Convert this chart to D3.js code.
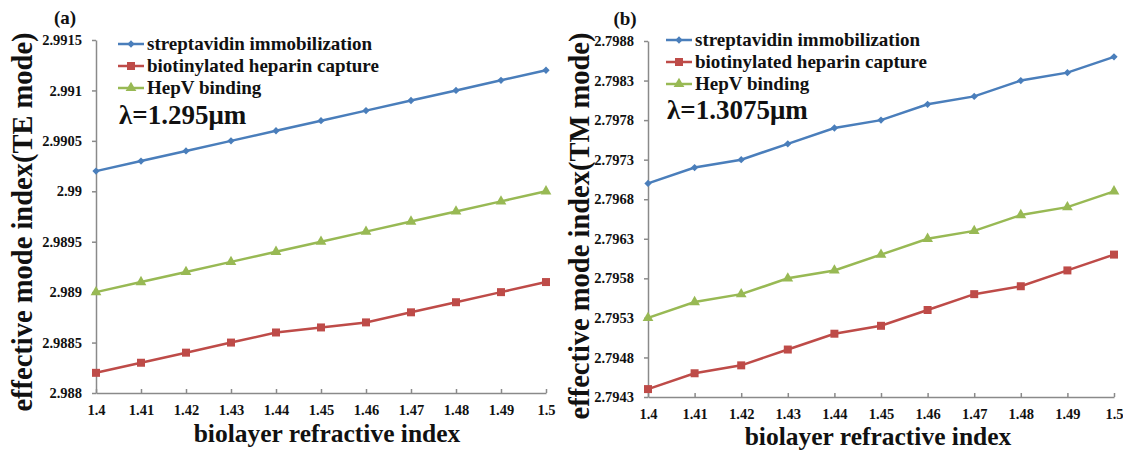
<!DOCTYPE html>
<html>
<head>
<meta charset="utf-8">
<script src="https://cdn.jsdelivr.net/npm/d3@7"></script>
<style>
    body { margin: 0; background: #fff; }
    text { font-family: "Liberation Serif", "Times New Roman", serif; font-weight: bold; fill: #111; }
</style>
</head>
<body>
<div class="chart__container"></div>
<script>
/*-------------------------------------DATA-------------------------------------*/

const X_VALUES = [1.4, 1.41, 1.42, 1.43, 1.44, 1.45, 1.46, 1.47, 1.48, 1.49, 1.5];
const X_LABELS = ["1.4", "1.41", "1.42", "1.43", "1.44", "1.45", "1.46", "1.47", "1.48", "1.49", "1.5"];
const SERIES_NAMES = ["streptavidin immobilization", "biotinylated heparin capture", "HepV binding"];

// (a) TE mode, lambda = 1.295um
const TE_STREPTAVIDIN = [2.9902, 2.9903, 2.9904, 2.9905, 2.9906, 2.9907, 2.9908, 2.9909, 2.9910, 2.9911, 2.9912];
const TE_HEPARIN = [2.9882, 2.9883, 2.9884, 2.9885, 2.9886, 2.98865, 2.9887, 2.9888, 2.9889, 2.9890, 2.9891];
const TE_HEPV = [2.9890, 2.9891, 2.9892, 2.9893, 2.9894, 2.9895, 2.9896, 2.9897, 2.9898, 2.9899, 2.9900];
const TE_TICKS = [2.988, 2.9885, 2.989, 2.9895, 2.99, 2.9905, 2.991, 2.9915];
const TE_TICK_LABELS = ["2.988", "2.9885", "2.989", "2.9895", "2.99", "2.9905", "2.991", "2.9915"];

// (b) TM mode, lambda = 1.3075um
const TM_STREPTAVIDIN = [2.7970, 2.7972, 2.7973, 2.7975, 2.7977, 2.7978, 2.7980, 2.7981, 2.7983, 2.7984, 2.7986];
const TM_HEPARIN = [2.7944, 2.7946, 2.7947, 2.7949, 2.7951, 2.7952, 2.7954, 2.7956, 2.7957, 2.7959, 2.7961];
const TM_HEPV = [2.7953, 2.7955, 2.7956, 2.7958, 2.7959, 2.7961, 2.7963, 2.7964, 2.7966, 2.7967, 2.7969];
const TM_TICKS = [2.7943, 2.7948, 2.7953, 2.7958, 2.7963, 2.7968, 2.7973, 2.7978, 2.7983, 2.7988];
const TM_TICK_LABELS = ["2.7943", "2.7948", "2.7953", "2.7958", "2.7963", "2.7968", "2.7973", "2.7978", "2.7983", "2.7988"];

/*-------------------------------------INIT-------------------------------------*/

const CHART__WIDTH = 1123;
const CHART__HEIGHT = 454;
const COLORS = ["#4a7ebb", "#be4b48", "#98b954"];
const SYMBOLS = [d3.symbolDiamond2, d3.symbolSquare, d3.symbolTriangle];
const SYMBOL_SIZES = [34, 64, 50];
const AXIS_COLOR = "#8a8a8a";
const FONT = "'Liberation Serif', 'Times New Roman', serif";

const PANELS = [
    {
        tag: "(a)", tagX: 65, tagY: 24,
        x0: 96, x1: 546, yTop: 40, yBottom: 393,
        ticks: TE_TICKS, tickLabels: TE_TICK_LABELS,
        series: [TE_STREPTAVIDIN, TE_HEPARIN, TE_HEPV],
        yLabel: "effective mode index(TE mode)", yLabelX: 32, yLabelY: 222,
        xLabelX: 327, xLabelY: 442,
        legendX: 118, legendY: 44,
        lambda: "λ=1.295μm", lambdaY: 124
    },
    {
        tag: "(b)", tagX: 625, tagY: 25,
        x0: 648, x1: 1114, yTop: 41, yBottom: 397,
        ticks: TM_TICKS, tickLabels: TM_TICK_LABELS,
        series: [TM_STREPTAVIDIN, TM_HEPARIN, TM_HEPV],
        yLabel: "effective mode index(TM mode)", yLabelX: 589, yLabelY: 226,
        xLabelX: 878, xLabelY: 445,
        legendX: 666, legendY: 40,
        lambda: "λ=1.3075μm", lambdaY: 119
    }
];

/*-------------------------------------Graph-------------------------------------*/

const SVG = d3.select(".chart__container").append("svg");

SVG.attr("width", CHART__WIDTH).attr("height", CHART__HEIGHT);

PANELS.forEach(p => {

    const g = SVG.append("g").style("font-family", FONT);

    const xScale = d3.scaleLinear().domain([1.4, 1.5]).range([p.x0, p.x1]);
    const yScale = d3.scaleLinear()
        .domain([p.ticks[0], p.ticks[p.ticks.length - 1]])
        .range([p.yBottom, p.yTop]);

    //Axes
    const xAxis = d3.axisBottom(xScale)
        .tickValues(X_VALUES)
        .tickFormat((d, i) => X_LABELS[i])
        .tickSizeInner(-4)
        .tickSizeOuter(0)
        .tickPadding(10);

    const yAxis = d3.axisLeft(yScale)
        .tickValues(p.ticks)
        .tickFormat((d, i) => p.tickLabels[i])
        .tickSizeInner(4)
        .tickSizeOuter(0)
        .tickPadding(10);

    const gx = g.append("g").attr("transform", `translate(0,${p.yBottom})`).call(xAxis);
    const gy = g.append("g").attr("transform", `translate(${p.x0},0)`).call(yAxis);

    [gx, gy].forEach(a => {
        a.attr("font-family", null).attr("font-size", null);
        a.selectAll("path, line").attr("stroke", AXIS_COLOR).attr("stroke-width", 1.5);
        a.selectAll("text")
            .style("font-size", "14.5px")
            .style("font-family", FONT)
            .style("font-weight", "bold")
            .attr("fill", "#222");
    });
    gx.selectAll("text").attr("dy", "0.85em");

    //Lines and markers
    const line = d3.line()
        .x((d, i) => xScale(X_VALUES[i]))
        .y(d => yScale(d));

    p.series.forEach((values, s) => {
        g.append("path")
            .datum(values)
            .attr("d", line)
            .attr("fill", "none")
            .attr("stroke", COLORS[s])
            .attr("stroke-width", 2.5);

        g.selectAll(null)
            .data(values)
            .join("path")
            .attr("d", d3.symbol().type(SYMBOLS[s]).size(SYMBOL_SIZES[s]))
            .attr("transform", (d, i) => `translate(${xScale(X_VALUES[i])},${yScale(d)})`)
            .attr("fill", COLORS[s]);
    });

    //Panel tag
    g.append("text")
        .attr("x", p.tagX)
        .attr("y", p.tagY)
        .attr("text-anchor", "middle")
        .style("font-size", "19px")
        .text(p.tag);

    //Axis titles
    g.append("text")
        .attr("transform", `translate(${p.yLabelX},${p.yLabelY}) rotate(-90)`)
        .attr("text-anchor", "middle")
        .style("font-size", "28.5px")
        .text(p.yLabel);

    g.append("text")
        .attr("x", p.xLabelX)
        .attr("y", p.xLabelY)
        .attr("text-anchor", "middle")
        .style("font-size", "25.5px")
        .text("biolayer refractive index");

    //Legend
    SERIES_NAMES.forEach((name, s) => {
        const ly = p.legendY + s * 22;
        g.append("line")
            .attr("x1", p.legendX).attr("x2", p.legendX + 26)
            .attr("y1", ly).attr("y2", ly)
            .attr("stroke", COLORS[s])
            .attr("stroke-width", 2.5);
        g.append("path")
            .attr("d", d3.symbol().type(SYMBOLS[s]).size(SYMBOL_SIZES[s]))
            .attr("transform", `translate(${p.legendX + 13},${ly})`)
            .attr("fill", COLORS[s]);
        g.append("text")
            .attr("x", p.legendX + 29)
            .attr("y", ly)
            .attr("dy", "0.33em")
            .style("font-size", "19px")
            .text(name);
    });

    g.append("text")
        .attr("x", p.legendX + 1)
        .attr("y", p.lambdaY)
        .style("font-size", "27px")
        .text(p.lambda);
});
</script>
</body>
</html>
